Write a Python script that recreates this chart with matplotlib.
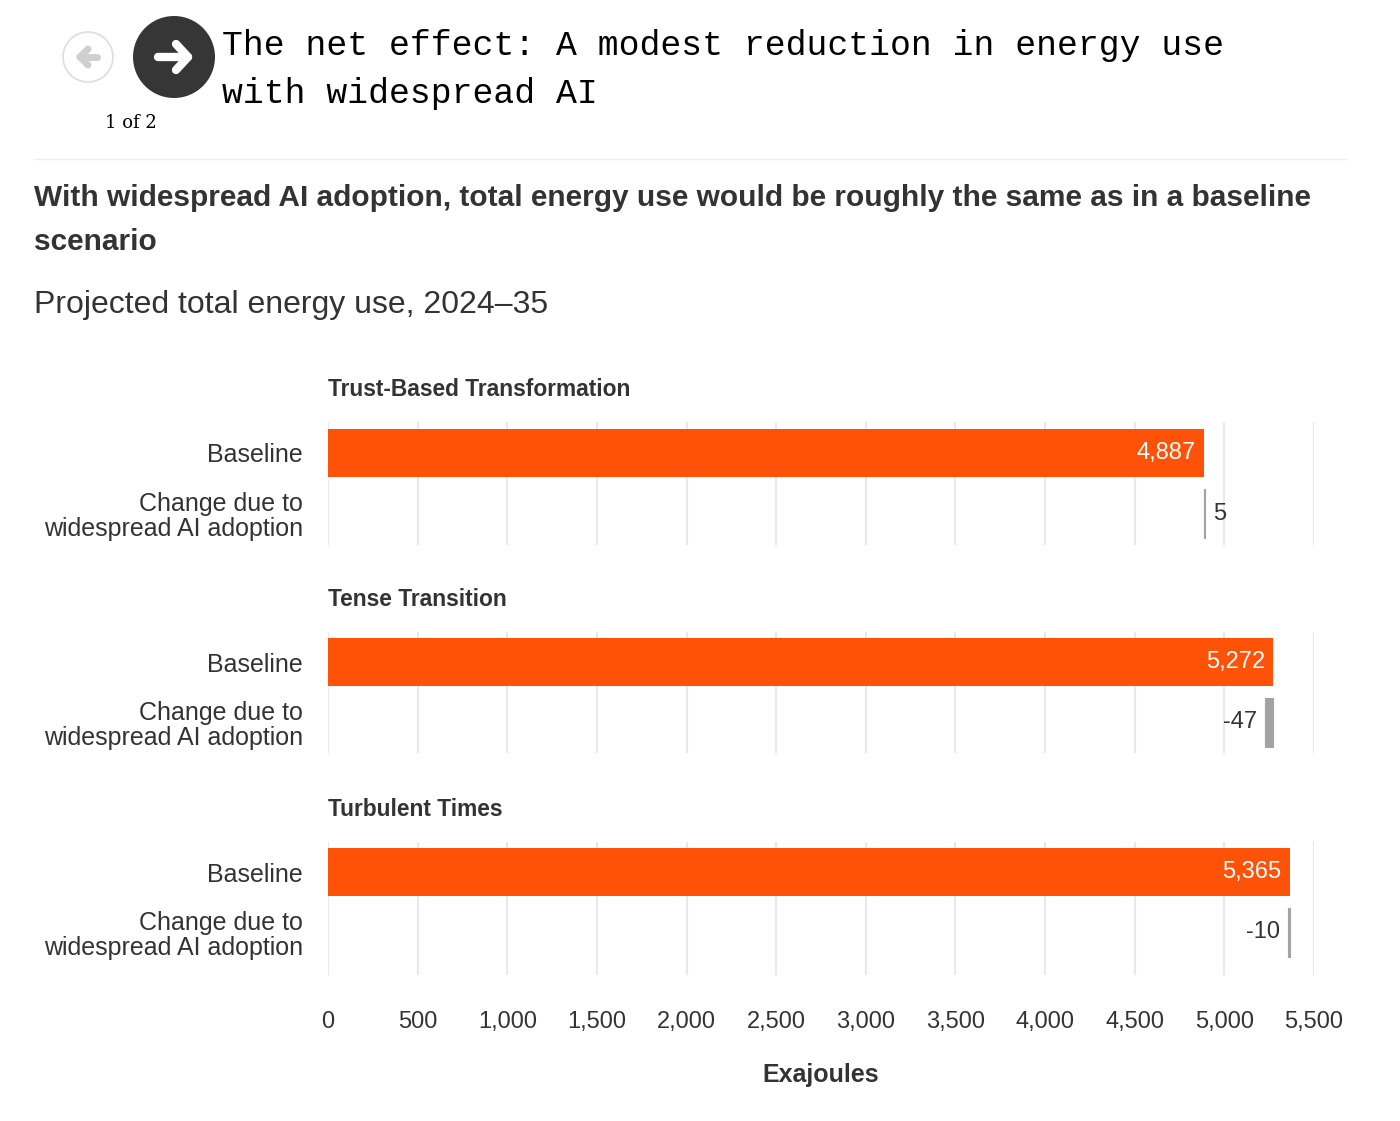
import numpy as np
import matplotlib
matplotlib.use("Agg")
import matplotlib.pyplot as plt
from matplotlib.patches import Circle

plt.rcParams['font.family'] = ['Liberation Sans', 'DejaVu Sans']

# data
scenarios = ['Trust-Based Transformation', 'Tense Transition', 'Turbulent Times']
baseline = [4887, 5272, 5365]
change = [5, -47, -10]
row_labels = ['Baseline', 'Change due to\nwidespread AI adoption']
xticks = [0, 500, 1000, 1500, 2000, 2500, 3000, 3500, 4000, 4500, 5000, 5500]

ORANGE = '#fe5208'
GREY_BAR = '#a3a3a3'
TEXT = '#333333'
GRID = '#e8e8e8'

W, H = 1400, 1121
fig = plt.figure(figsize=(W / 100, H / 100), dpi=100)

# overlay in pixel coordinates for header stuff
deco = fig.add_axes([0, 0, 1, 1])
deco.set_xlim(0, W)
deco.set_ylim(H, 0)
deco.axis('off')

# nav buttons
deco.add_patch(Circle((88, 57), 25, facecolor='white', edgecolor='#dddddd', lw=1.2))
deco.plot([80, 97], [57, 57], color='#cfcfcf', lw=5, solid_capstyle='round')
deco.plot([80, 88], [57, 49], color='#cfcfcf', lw=5, solid_capstyle='round')
deco.plot([80, 88], [57, 65], color='#cfcfcf', lw=5, solid_capstyle='round')
deco.add_patch(Circle((174, 57), 41, facecolor='#363636', edgecolor='none'))
deco.plot([158, 188], [57, 57], color='white', lw=6, solid_capstyle='round')
deco.plot([176, 188, 176], [44, 57, 70], color='white', lw=6,
          solid_capstyle='round', solid_joinstyle='round')
deco.text(131, 123, '1 of 2', fontsize=13, family='DejaVu Serif',
          color='black', ha='center', va='center')

deco.text(222, 45, 'The net effect: A modest reduction in energy use', fontsize=25,
          family='Liberation Mono', color='black', va='center', ha='left')
deco.text(222, 93, 'with widespread AI', fontsize=25,
          family='Liberation Mono', color='black', va='center', ha='left')
deco.plot([34, 1346], [159, 159], color='#eeeeee', lw=1)

deco.text(34, 198, 'With widespread AI adoption, total energy use would be roughly the same as in a baseline',
          fontsize=21.5, fontweight='bold', color=TEXT, va='center', ha='left')
deco.text(34, 242, 'scenario', fontsize=21.5, fontweight='bold', color=TEXT, va='center', ha='left')
deco.text(34, 305, 'Projected total energy use, 2024\u201335', fontsize=23, color=TEXT,
          va='center', ha='left')

# panel geometry in pixels: (axes top, axes bottom, first row centre)
panels = [(422, 545, 453), (632, 753, 662), (842, 975, 872)]
row_step = 60.5
x0_px, x1_px = 328, 1314
xmax = 5500

for i, (name, b, c) in enumerate(zip(scenarios, baseline, change)):
    top, bot, cen = panels[i]
    ax = fig.add_axes([x0_px / W, 1 - bot / H, (x1_px - x0_px) / W, (bot - top) / H])
    ax.set_facecolor('none')
    ylo = -(cen - top) / row_step
    yhi = (bot - cen) / row_step
    ax.set_ylim(yhi, ylo)
    ax.set_xlim(0, xmax)
    ax.barh(0, b, height=0.8, color=ORANGE, zorder=3)
    ax.barh(1, c, left=b, height=0.8, color=GREY_BAR, zorder=3,
            edgecolor=GREY_BAR, linewidth=0.8)
    ax.text(b - 45, 0, f'{b:,}', color='white', fontsize=17, ha='right', va='center', zorder=4)
    if c >= 0:
        ax.text(b + c + 45, 1, f'{c:,}', color=TEXT, fontsize=17, ha='left', va='center', zorder=4)
    else:
        ax.text(b + c - 45, 1, f'{c:,}', color=TEXT, fontsize=17, ha='right', va='center', zorder=4)

    ax.set_xticks(xticks)
    ax.grid(axis='x', color=GRID, lw=1.5, zorder=0)
    ax.set_yticks([0, 1])
    ax.set_yticklabels(row_labels, fontsize=18, color=TEXT, linespacing=1.05)
    ax.tick_params(axis='y', length=0, pad=18)
    ax.tick_params(axis='x', length=0)
    for s in ax.spines.values():
        s.set_visible(False)
    if i == len(scenarios) - 1:
        ax.set_xticklabels([f'{t:,}' for t in xticks], fontsize=17, color=TEXT)
        ax.tick_params(axis='x', pad=26)
    else:
        ax.set_xticklabels([])

    deco.text(x0_px, top - 32, name, fontsize=16.4, fontweight='bold', color=TEXT,
              va='center', ha='left')

deco.text((x0_px + x1_px) / 2, 1075, 'Exajoules', fontsize=18, fontweight='bold',
          color=TEXT, va='center', ha='center')

fig.savefig('out.png', dpi=100, facecolor='white')
